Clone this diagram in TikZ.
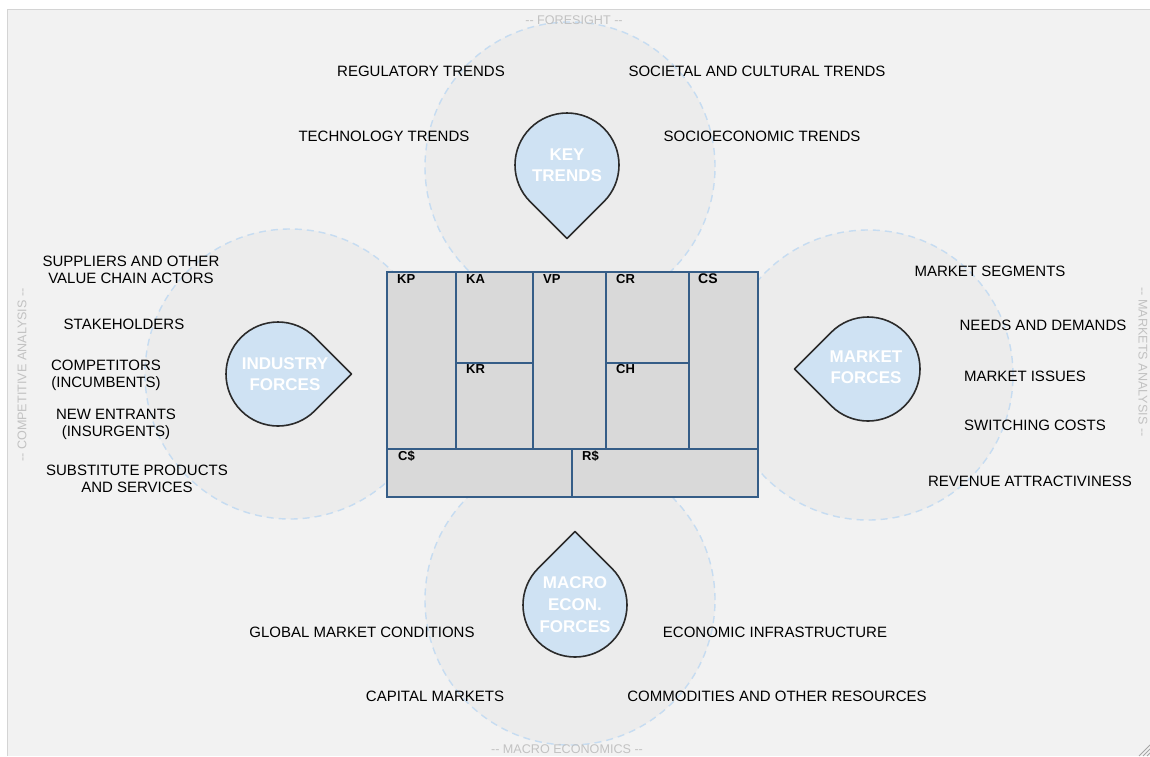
\documentclass[tikz,border=0pt]{standalone}
\usepackage{fontspec}
\setmainfont{Liberation Sans}
\usetikzlibrary{calc}
\definecolor{bgc}{HTML}{F2F2F2}
\definecolor{edgec}{HTML}{D4D4D4}
\definecolor{circc}{HTML}{ECECEC}
\definecolor{dashc}{HTML}{C6DCF1}
\definecolor{dropc}{HTML}{CFE2F3}
\definecolor{dropline}{HTML}{2B2B2B}
\definecolor{cvfill}{HTML}{D9D9D9}
\definecolor{cvline}{HTML}{355D87}
\definecolor{sidec}{HTML}{C2C2C2}
\newcommand\mydrop[3]{%
  \filldraw[dropshape] ($(#1)+(#2:73.5)$) -- ($(#1)+(#2+45:#3)$)
    arc[start angle=#2+45, delta angle=270, radius=#3] -- cycle;}
\newcommand\dd{-{}-}
\begin{document}
\begin{tikzpicture}[x=1pt,y=1pt,
  bigcirc/.style={fill=circc},
  dashcirc/.style={draw=dashc, line width=1.4pt, dash pattern=on 7pt off 5pt},
  dropshape/.style={fill=dropc, draw=dropline, line width=1.6pt, line join=round},
  droptext/.style={text=white, align=center, font=\bfseries\fontsize{17}{21}\selectfont, inner sep=0pt},
  item/.style={text=black, align=center, font=\fontsize{15}{17}\selectfont, inner sep=0pt},
  side/.style={text=sidec, font=\fontsize{12.6}{14}\selectfont, inner sep=0pt},
  cvl/.style={draw=cvline, line width=1.6pt},
  cell/.style={font=\bfseries\fontsize{13}{15}\selectfont, anchor=base west, inner sep=0pt, text=black}
]
\useasboundingbox (0,0) rectangle (1150,-756);
\fill[white] (0,0) rectangle (1150,-756);
\fill[bgc] (7,-9) rectangle (1150,-756);
\draw[edgec, line width=1.2pt] (7.5,-756) -- (7.5,-9.5) -- (1150,-9.5);

% big circles
\coordinate (ctop) at (570,-167);
\coordinate (cleft) at (290,-374);
\coordinate (cright) at (868,-375);
\coordinate (cbot) at (570,-600);
\foreach \c in {ctop,cleft,cright,cbot} {\fill[bigcirc] (\c) circle[radius=145];}
\foreach \c in {ctop,cleft,cright,cbot} {\draw[dashcirc] (\c) circle[radius=145];}

% side labels
\node[side] (fs) at (574,-20) {\dd{} FORESIGHT \dd};
\node[side] (me) at (567,-749) {\dd{} MACRO ECONOMICS \dd};
\node[side, rotate=90] (ca) at (22,-375) {\dd{} COMPETITIVE ANALYSIS \dd};
\node[side, rotate=-90] (ma) at (1143,-362) {\dd{} MARKETS ANALYSIS \dd};

% canvas
\fill[cvfill] (387,-272) rectangle (758,-497);
\draw[cvl] (456,-272) -- (456,-449);
\draw[cvl] (533,-272) -- (533,-449);
\draw[cvl] (606,-272) -- (606,-449);
\draw[cvl] (689,-272) -- (689,-449);
\draw[cvl] (456,-363) -- (533,-363);
\draw[cvl] (606,-363) -- (689,-363);
\draw[cvl] (387,-449) -- (758,-449);
\draw[cvl] (572,-449) -- (572,-497);
\draw[cvl] (387,-272) rectangle (758,-497);
\node[cell] (kp) at (397,-283) {KP};
\node[cell] (ka) at (466,-283) {KA};
\node[cell] (vp) at (543,-283) {VP};
\node[cell] (cr) at (616,-283) {CR};
\node[cell, font=\bfseries\fontsize{14}{16}\selectfont] (cs) at (698,-283) {CS};
\node[cell] (kr) at (466,-373) {KR};
\node[cell] (ch) at (616,-373) {CH};
\node[cell] (cc) at (398,-460) {C\$};
\node[cell] (rr) at (582,-460) {R\$};

% drops
\mydrop{567,-165}{-90}{52}
\mydrop{278,-374}{0}{52}
\mydrop{868,-369}{180}{52}
\mydrop{575,-605}{90}{52}
\node[droptext] (kt) at (567,-165) {KEY\\TRENDS};
\node[droptext] (if) at (285,-374) {INDUSTRY\\FORCES};
\node[droptext] (mf) at (866,-367) {MARKET\\FORCES};
\node[droptext, font=\bfseries\fontsize{17}{22}\selectfont] (mc) at (575,-605) {MACRO\\ECON.\\FORCES};

% top items
\node[item] (t1) at (421,-71) {REGULATORY TRENDS};
\node[item] (t2) at (757,-71) {SOCIETAL AND CULTURAL TRENDS};
\node[item] (t3) at (384,-136) {TECHNOLOGY TRENDS};
\node[item] (t4) at (762,-136) {SOCIOECONOMIC TRENDS};
% left items
\node[item] (l1) at (131,-270) {SUPPLIERS AND OTHER\\VALUE CHAIN ACTORS};
\node[item] (l2) at (124,-324) {STAKEHOLDERS};
\node[item] (l3) at (106,-375) {COMPETITORS\\(INCUMBENTS)};
\node[item] (l4) at (116,-424) {NEW ENTRANTS\\(INSURGENTS)};
\node[item] (l5) at (137,-479) {SUBSTITUTE PRODUCTS\\AND SERVICES};
% right items
\node[item] (r1) at (990,-271) {MARKET SEGMENTS};
\node[item] (r2) at (1043,-325) {NEEDS AND DEMANDS};
\node[item] (r3) at (1025,-376) {MARKET ISSUES};
\node[item] (r4) at (1035,-425) {SWITCHING COSTS};
\node[item] (r5) at (1030,-481) {REVENUE ATTRACTIVINESS};
% bottom items
\node[item] (b1) at (362,-632) {GLOBAL MARKET CONDITIONS};
\node[item] (b2) at (775,-632) {ECONOMIC INFRASTRUCTURE};
\node[item] (b3) at (435,-696) {CAPITAL MARKETS};
\node[item] (b4) at (777,-696) {COMMODITIES AND OTHER RESOURCES};

% resize grip
\foreach \d in {3,7,11} {\draw[gray!70, line width=0.8pt] (1150-\d,-756) -- (1150,-756+\d);}
\end{tikzpicture}
\end{document}
